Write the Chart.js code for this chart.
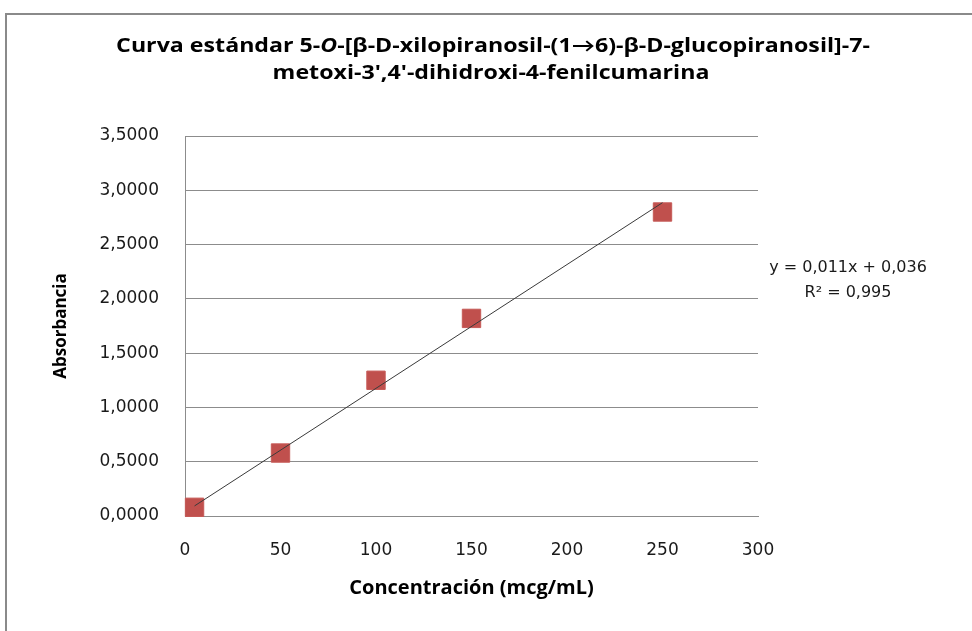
<!DOCTYPE html>
<html>
<head>
<meta charset="utf-8">
<title>Curva estándar</title>
<script src="https://cdn.jsdelivr.net/npm/chart.js@4.4.1/dist/chart.umd.min.js"></script>
<style>
  html, body { margin: 0; padding: 0; background: #ffffff; overflow: hidden; }
  #wrap { position: relative; width: 972px; height: 631px; }
</style>
</head>
<body>
<div id="wrap"><canvas id="curve"></canvas></div>
<script>
// Standard curve: concentration (mcg/mL) vs absorbance
const concentrations = [5, 50, 100, 150, 250];
const absorbances = [0.08, 0.58, 1.25, 1.82, 2.80];

// Axis ranges and tick spacing
const xRange = [0, 300];
const xStep = 50;
const yRange = [0, 3.5];
const yStep = 0.5;

// Linear fit shown on the chart
const fitSlope = 0.0114;
const fitIntercept = 0.036;
const fitR2 = 0.995;
const fitSpan = [5, 250];

// Title pieces: [text, italic]
const titleLine1 = [["Curva estándar 5-", false], ["O", true], ["-[β-D-xilopiranosil-(1→6)-β-D-glucopiranosil]-7-", false]];
const titleLine2 = [["metoxi-3',4'-dihidroxi-4-fenilcumarina", false]];

const xAxisTitle = "Concentración (mcg/mL)";
const yAxisTitle = "Absorbancia";

const comma = (v, d) => v.toFixed(d).replace('.', ',');
const fitLine = fitSpan.map(x => ({ x: x, y: fitSlope * x + fitIntercept }));
const points = concentrations.map((x, i) => ({ x: x, y: absorbances[i] }));

const TITLE_FONT = "'Open Sans', 'Lato', sans-serif";
const TICK_FONT = "'DejaVu Sans', Verdana, sans-serif";
const TITLE_STRETCH = 1.22;   // wide title lettering

function drawMixedLine(ctx, parts, cx, cy, size, stretch) {
  const fontFor = italic => (italic ? 'italic ' : '') + 'bold ' + size + 'px ' + TITLE_FONT;
  let total = 0;
  parts.forEach(([t, it]) => { ctx.font = fontFor(it); total += ctx.measureText(t).width; });
  ctx.save();
  ctx.translate(cx, cy);
  ctx.scale(stretch, 1);
  let x = -total / 2;
  ctx.textAlign = 'left';
  ctx.textBaseline = 'middle';
  parts.forEach(([t, it]) => {
    ctx.font = fontFor(it);
    ctx.fillText(t, x, 0);
    x += ctx.measureText(t).width;
  });
  ctx.restore();
}

const decorations = {
  id: 'decorations',
  beforeDraw(chart) {
    const ctx = chart.ctx;
    ctx.save();
    ctx.fillStyle = '#ffffff';
    ctx.fillRect(0, 0, chart.width, chart.height);
    // outer chart frame (left and top edges are in view)
    ctx.strokeStyle = '#8a8a8a';
    ctx.lineWidth = 2;
    ctx.beginPath();
    ctx.moveTo(6, chart.height + 2);
    ctx.lineTo(6, 14);
    ctx.lineTo(chart.width + 2, 14);
    ctx.stroke();
    ctx.restore();
  },
  afterDraw(chart) {
    const ctx = chart.ctx;
    ctx.save();
    ctx.fillStyle = '#000000';
    drawMixedLine(ctx, titleLine1, 493, 47, 19, TITLE_STRETCH);
    drawMixedLine(ctx, titleLine2, 491, 74, 19, TITLE_STRETCH);

    // regression equation and R²
    ctx.font = '16px ' + TICK_FONT;
    ctx.fillStyle = '#1a1a1a';
    ctx.textAlign = 'center';
    ctx.textBaseline = 'middle';
    ctx.fillText('y = ' + comma(fitSlope, 3) + 'x + ' + comma(fitIntercept, 3), 848, 268);
    ctx.fillText('R² = ' + comma(fitR2, 3), 848, 293);
    ctx.restore();
  }
};

new Chart(document.getElementById('curve'), {
  type: 'scatter',
  data: {
    datasets: [
      {
        label: 'Absorbancia',
        data: points,
        pointStyle: 'rect',
        pointRadius: 13,
        pointHoverRadius: 13,
        backgroundColor: '#C0504D',
        borderColor: '#C65a57',
        borderWidth: 1,
        clip: false,
        order: 2
      },
      {
        label: 'Lineal',
        type: 'line',
        data: fitLine,
        borderColor: '#3a3a3a',
        borderWidth: 1,
        pointRadius: 0,
        fill: false,
        order: 1
      }
    ]
  },
  options: {
    responsive: true,
    maintainAspectRatio: false,
    animation: false,
    events: [],
    layout: { padding: { left: 47, right: 214, top: 136, bottom: 27 } },
    plugins: {
      legend: { display: false },
      tooltip: { enabled: false },
      title: { display: false }
    },
    scales: {
      x: {
        type: 'linear',
        min: xRange[0],
        max: xRange[1],
        ticks: {
          stepSize: xStep,
          padding: 24,
          color: '#1a1a1a',
          font: { family: TICK_FONT, size: 17 },
          maxRotation: 0
        },
        grid: { display: false, drawTicks: false },
        border: { display: true, color: '#8c8c8c', width: 1 },
        title: {
          display: true,
          text: xAxisTitle,
          color: '#000000',
          font: { family: TITLE_FONT, size: 20, weight: 'bold' },
          padding: { top: 4, bottom: 4 }
        },
        afterFit(scale) { scale.height = 88; }
      },
      y: {
        type: 'linear',
        min: yRange[0],
        max: yRange[1],
        ticks: {
          stepSize: yStep,
          padding: 26,
          color: '#1a1a1a',
          font: { family: TICK_FONT, size: 17 },
          callback: v => comma(v, 4)
        },
        grid: { color: '#8c8c8c', lineWidth: 1, drawTicks: false },
        border: { display: true, color: '#8c8c8c', width: 1 },
        title: {
          display: true,
          text: yAxisTitle,
          color: '#000000',
          font: { family: TITLE_FONT, size: 17, weight: 'bold' },
          padding: { top: 4, bottom: 4 }
        },
        afterFit(scale) { scale.width = 138; }
      }
    }
  },
  plugins: [decorations]
});
</script>
</body>
</html>
